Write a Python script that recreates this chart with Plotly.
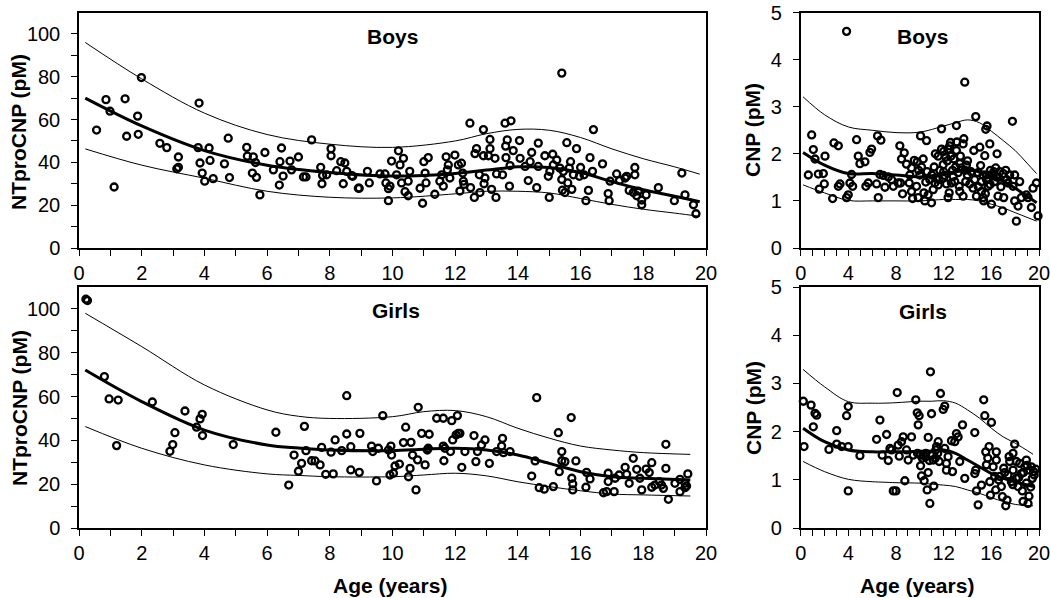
import plotly.graph_objects as go

# ---------------- Data ----------------
# Boys NTproCNP scatter
boys_nt_age = [0.56,0.86,0.99,1.12,1.47,1.52,1.87,1.89,1.99,2.58,2.80,3.17,3.12,3.17,3.83,3.80,3.86,3.93,4.01,4.15,4.18,4.28,4.64,4.76,4.80,
    5.35,5.37,5.56,5.53,5.63,5.66,5.77,5.93,6.20,6.39,6.41,6.46,6.51,6.73,6.78,7.00,7.16,7.24,7.42,7.71,7.75,7.77,7.90,8.04,8.04,8.22,8.35,8.48,8.43,8.54,8.70,8.91,
    8.73,8.94,9.20,9.26,9.60,9.76,9.79,9.87,9.87,9.97,9.92,10.13,10.19,10.24,10.29,10.35,10.40,10.50,10.50,10.55,10.88,10.96,11.00,11.04,11.07,11.14,11.35,11.51,11.57,11.62,
    11.71,11.75,11.78,11.83,11.99,12.10,12.15,12.20,12.24,12.26,12.28,12.47,12.49,12.61,12.63,12.68,12.77,12.79,12.90,12.90,12.92,12.95,13.06,13.11,13.11,13.16,13.27,13.30,
    13.32,13.51,13.59,13.61,13.62,13.66,13.73,13.75,13.78,13.85,14.05,14.07,14.23,14.33,14.39,14.44,14.60,14.65,14.65,14.86,14.97,15.00,15.02,15.11,15.13,15.24,15.34,15.40,
    15.40,15.42,15.45,15.50,15.56,15.59,15.64,15.68,15.72,15.77,15.87,15.96,16.00,16.11,16.17,16.25,16.30,16.38,16.41,16.70,16.88,16.91,16.94,17.15,17.24,17.42,17.47,17.55,
    17.68,17.73,17.73,17.79,17.84,17.95,17.95,18.09,18.48,18.99,19.23,19.33,19.60,19.68]
boys_nt_val = [55.1,69.3,63.9,28.5,69.7,52.2,61.6,53.1,79.6,48.9,46.9,42.5,37.0,37.7,67.7,46.9,39.7,35.0,31.2,46.7,40.9,32.4,39.3,51.3,32.9,
    47.0,42.9,42.6,35.0,39.9,33.0,24.8,44.6,36.5,29.4,40.3,46.7,33.6,40.6,36.5,42.5,33.2,33.2,50.5,37.7,30.0,33.9,34.2,46.4,43.1,36.1,40.3,39.7,30.0,35.8,33.8,27.9,
    33.5,27.9,35.8,30.4,34.6,34.6,30.4,27.7,22.1,40.6,28.9,34.2,45.4,38.8,30.4,41.9,26.3,24.4,31.2,35.8,27.9,20.9,40.3,35.0,30.4,42.2,25.1,31.2,34.2,28.9,
    42.6,36.5,38.8,32.7,43.4,38.8,26.6,39.6,35.0,31.2,29.7,58.3,28.2,23.6,44.1,46.4,34.2,25.9,55.3,43.1,30.0,32.7,43.1,50.7,46.4,27.4,41.9,23.6,
    34.6,34.2,58.3,47.6,42.2,50.5,28.9,38.5,59.4,45.5,50.2,41.9,38.1,31.5,40.3,44.6,28.2,38.1,49.0,43.1,33.5,23.6,35.8,43.8,38.8,41.1,37.3,81.7,
    32.0,27.0,35.8,25.9,49.2,30.4,37.3,40.3,27.4,34.2,46.4,33.5,37.6,34.2,22.1,26.9,42.2,35.8,55.3,39.3,25.4,22.1,31.2,34.6,31.5,32.7,33.5,26.9,
    25.9,37.6,34.2,24.4,26.6,20.2,22.4,24.8,28.2,22.1,35.0,24.8,20.2,16.0]

# Boys CNP scatter
boys_cnp_age = [0.64,0.92,1.06,1.20,1.48,1.56,1.90,1.98,2.04,2.68,2.79,3.16,3.16,3.30,3.85,3.85,3.99,4.13,4.27,4.36,4.69,4.83,4.97,5.39,5.47,5.67,5.81,5.95,
    6.37,6.45,6.51,6.65,6.73,6.93,7.07,7.35,7.63,7.77,8.18,8.32,8.38,8.46,8.55,8.69,8.88,9.11,9.16,9.30,9.39,9.53,9.72,9.78,9.86,10.00,10.06,10.14,10.28,10.34,10.42,
    10.56,10.61,10.70,10.84,10.98,11.12,11.26,11.54,11.68,11.82,11.82,11.96,12.09,12.18,12.23,12.37,12.37,12.46,12.51,12.65,12.74,12.85,12.93,13.07,13.07,13.21,13.30,
    13.35,13.49,13.63,13.69,13.77,13.85,13.91,13.99,14.19,14.47,14.53,14.69,14.75,14.89,15.03,15.17,15.17,15.31,15.36,15.45,15.53,15.64,15.73,15.87,15.92,16.01,16.09,
    16.28,16.37,16.48,16.56,16.70,16.93,17.04,17.21,17.40,17.54,17.77,17.82,17.96,18.10,18.24,18.52,19.08,19.36,19.50,19.78,19.92,
    11.40,11.54,11.96,15.59,15.73,16.42,18.94,18.38,13.35,13.63,12.57,17.96,
    11.0,11.2,11.6,12.0,12.3,12.6,12.8,13.0,13.4,13.8,14.0,14.3,14.6,14.9,15.1,15.3,15.6,15.9,16.2,16.6,17.0,17.3,16.8,15.5,12.0,11.3,13.1,10.5,9.9,9.3]
boys_cnp_val = [1.55,2.40,2.09,1.89,1.57,1.25,1.58,1.36,1.95,1.05,2.23,2.17,1.31,1.36,4.60,1.07,1.13,1.38,1.56,1.31,2.30,1.95,1.79,1.83,1.31,1.38,2.03,2.10,
    1.36,2.38,1.07,1.56,2.29,1.54,1.29,1.51,1.45,1.31,1.38,2.17,1.38,1.89,1.15,2.02,1.78,1.38,1.55,1.20,1.05,1.86,1.31,1.83,1.07,1.55,2.38,1.72,1.89,1.17,1.00,
    2.28,1.62,1.13,1.45,0.96,1.24,1.38,1.95,1.65,2.53,2.10,1.77,1.54,1.93,1.36,2.10,1.07,1.17,2.17,1.38,1.65,1.89,1.41,2.60,2.07,1.60,1.31,
    1.79,1.70,2.21,2.32,3.52,1.41,1.76,1.55,1.36,1.27,2.07,2.79,1.10,1.60,2.14,1.41,1.20,1.07,1.00,1.96,2.52,2.59,1.31,2.21,1.65,0.93,1.55,
    1.41,1.70,2.00,1.10,1.62,0.79,1.07,1.65,1.38,1.55,2.69,1.31,1.00,0.57,0.89,1.07,1.07,0.86,1.27,1.38,0.68,
    1.48,1.34,1.48,1.55,1.48,1.51,1.13,1.41,1.20,1.10,2.24,1.55,
    1.55,1.72,1.45,1.62,1.85,1.95,1.52,1.72,1.95,1.65,1.85,1.62,1.45,1.30,1.75,1.55,1.45,1.35,1.62,1.50,1.58,1.45,1.30,1.15,2.05,2.00,2.25,1.40,1.65,1.70]

# Girls NTproCNP scatter
girls_nt_age = [0.22,0.27,0.81,0.96,1.25,1.20,2.34,2.90,2.99,3.06,3.38,3.75,3.86,3.93,3.94,4.92,6.28,6.69,6.86,7.00,7.10,7.19,7.24,7.42,7.53,7.69,7.74,7.87,
    8.04,8.11,8.17,8.38,8.54,8.54,8.67,8.67,8.96,8.94,9.33,9.37,9.49,9.55,9.69,9.87,9.92,9.95,9.97,10.03,10.08,10.22,10.35,10.42,10.51,10.56,10.59,10.64,10.75,
    10.80,10.82,10.93,11.04,11.11,11.14,11.17,11.41,11.62,11.62,11.64,11.67,11.85,11.89,11.92,12.03,12.07,12.10,12.15,12.21,12.31,12.60,12.66,12.71,12.84,12.95,
    13.09,13.32,13.48,13.51,13.54,13.75,14.44,14.55,14.60,14.68,14.84,15.13,15.29,15.32,15.40,15.40,15.50,15.70,15.72,15.75,15.75,15.85,16.17,16.19,16.30,16.73,
    16.83,16.88,16.88,17.07,17.10,17.23,17.42,17.47,17.55,17.68,17.79,17.89,17.95,18.09,18.19,18.27,18.27,18.37,18.51,18.58,18.64,18.72,18.72,18.80,19.01,19.17,
    19.17,19.33,19.33,19.42,19.38]
girls_nt_val = [104.4,103.8,69.1,58.9,58.4,37.6,57.5,35.0,38.1,43.5,53.4,46.0,49.8,51.9,42.2,38.1,43.7,19.6,33.3,25.9,29.5,46.4,35.3,30.7,30.6,28.8,36.8,24.5,
    34.6,24.7,40.2,35.3,42.9,60.4,37.1,26.5,43.2,25.4,37.4,34.9,21.5,36.4,51.3,35.6,24.2,37.4,33.3,25.0,28.3,29.2,39.0,46.0,23.4,27.2,39.1,33.3,17.4,
    31.1,55.1,43.2,28.8,35.6,36.4,42.8,50.1,50.1,37.4,30.7,36.4,34.9,49.0,40.2,42.5,51.3,43.2,43.2,27.7,34.9,42.2,30.3,34.9,37.9,40.2,
    29.5,34.9,37.4,40.9,34.4,34.9,23.7,30.6,59.5,18.4,17.7,18.9,43.5,25.7,34.9,30.7,30.3,50.4,22.7,20.1,17.4,30.6,18.6,25.4,22.4,16.1,
    16.6,25.0,21.2,16.6,22.7,24.2,27.7,24.5,20.4,31.8,26.8,22.7,17.4,26.9,25.3,29.8,18.6,19.6,21.2,19.6,18.1,38.2,27.2,13.1,20.4,22.2,
    16.6,20.4,18.4,24.7,19.2]

# Girls CNP scatter
girls_cnp_age = [0.22,0.28,0.87,1.06,1.20,1.34,2.37,3.02,3.02,3.44,3.85,3.99,3.99,3.99,4.97,6.37,6.65,6.84,7.21,7.35,7.49,7.63,7.77,7.99,8.10,8.18,8.27,8.46,
    8.60,8.74,8.88,9.02,9.30,9.44,9.66,9.78,9.86,9.94,10.06,10.06,10.14,10.28,10.36,10.50,10.61,10.70,10.70,10.84,10.89,10.98,11.12,11.17,11.34,11.40,11.54,11.62,
    11.73,11.96,12.09,12.09,12.23,12.23,12.37,12.65,12.74,12.93,13.07,13.21,13.35,13.58,13.77,14.61,14.61,14.69,14.75,14.89,15.17,15.36,15.45,15.53,15.59,15.81,
    15.87,15.92,16.01,16.15,16.28,16.37,16.42,16.84,16.93,17.04,17.12,17.21,17.32,17.49,17.54,17.68,17.82,17.96,18.10,18.24,18.38,18.52,18.60,18.66,18.80,18.94,
    19.08,19.16,19.36,19.44,19.55,19.72,16.42,16.70,17.82,18.10,18.94,19.22,
    10.2,10.5,10.8,11.0,11.3,11.5,9.8,18.3,18.7,19.0,19.3,17.8,17.4,19.6,16.6,15.7]
girls_cnp_val = [2.63,1.69,2.55,2.10,2.38,2.34,1.63,2.02,1.74,1.69,2.33,2.52,1.69,0.77,1.50,1.84,2.24,1.51,1.94,1.40,1.65,1.62,0.77,0.77,2.81,1.72,1.49,1.79,
    1.89,0.98,1.62,1.41,1.89,1.51,2.66,2.39,2.14,2.33,1.51,1.29,1.08,1.51,0.98,1.48,0.79,1.15,1.88,0.51,3.24,2.37,1.41,0.87,1.62,1.69,1.79,1.38,
    2.79,2.46,2.53,1.65,1.20,1.34,1.48,1.81,1.17,1.79,1.96,1.89,1.38,2.14,1.03,1.98,1.13,1.20,0.77,0.48,0.89,2.66,2.33,1.58,1.31,1.69,
    0.96,0.68,2.19,1.27,1.07,0.79,1.58,0.86,0.65,1.24,1.15,0.46,0.58,1.48,1.38,0.96,1.20,1.74,1.03,0.86,1.34,1.13,0.77,0.55,1.27,0.93,
    0.51,0.66,1.27,1.03,1.17,1.22,1.41,1.07,1.55,1.38,1.41,1.20,
    1.45,1.55,1.40,1.50,1.45,1.55,1.55,1.05,1.15,1.30,0.85,0.90,1.10,1.10,1.00,1.45]

# Percentile curves
curve_age = [0.2,2,4,6,8,10,12,13,14,15,16,17,18,19,19.8]
boys_nt_hi  = [96,79,63,53,48.5,47,50,53.4,55.4,55,51.6,46.3,41.7,37.9,34.5]
boys_nt_mid = [70,57,45.5,38.7,35.3,33.6,34.8,36.4,37.9,37.6,35.3,31,27.2,24.2,21.6]
boys_nt_lo  = [46.3,38.7,32.6,26.5,23.7,23.4,25.3,26.5,26.5,25.7,23.1,20.4,18.1,16.3,14.8]

boys_cnp_hi  = [3.21,2.83,2.57,2.50,2.45,2.46,2.59,2.66,2.72,2.66,2.48,2.28,2.07,1.80,1.58]
boys_cnp_mid = [2.03,1.76,1.58,1.58,1.55,1.51,1.58,1.62,1.65,1.62,1.55,1.42,1.27,1.10,0.96]
boys_cnp_lo  = [1.34,1.17,1.01,1.00,1.00,1.00,1.03,1.03,1.03,1.00,0.93,0.85,0.75,0.65,0.57]

curve_age_g = [0.2,2,4,6,7,8,10,11,12,13,14,15,16,17,18,19.5]
girls_nt_hi  = [98,82.8,65.3,53.9,51,50,50.8,53.1,53.6,50.8,45.5,41,37.4,35.6,34.4,33.6]
girls_nt_mid = [72.1,57.7,44.7,37.9,36.5,35.6,35.3,36,36.4,35.6,33.3,29.5,25.7,23.4,22.7,21.9]
girls_nt_lo  = [46.3,36.4,28.8,24.7,24,23.4,23.4,24.2,25,23.8,21.1,18.9,17,15.5,15.1,14.6]

girls_cnp_hi  = [3.29,2.93,2.62,2.59,2.59,2.6,2.63,2.63,2.64,2.59,2.45,2.28,2.07,1.89,1.76,1.53]
girls_cnp_mid = [2.07,1.79,1.62,1.58,1.58,1.58,1.59,1.6,1.62,1.55,1.41,1.27,1.13,1.03,0.96,0.86]
girls_cnp_lo  = [1.38,1.17,1.01,0.96,0.95,0.94,0.93,0.91,0.89,0.86,0.79,0.72,0.63,0.55,0.49,0.46]

panel_titles = ["Boys", "Boys", "Girls", "Girls"]

# ---------------- Figure ----------------
FONT = "Liberation Sans, Arial, sans-serif"
fig = go.Figure()

def add_panel(n, ages, vals, cage, hi, mid, lo):
    xa = "x" if n == 1 else f"x{n}"
    ya = "y" if n == 1 else f"y{n}"
    for arr, w in ((hi, 1), (lo, 1), (mid, 3)):
        fig.add_trace(go.Scatter(x=cage, y=arr, mode="lines", line=dict(color="black", width=w, shape="spline", smoothing=1),
                                 xaxis=xa, yaxis=ya, showlegend=False, hoverinfo="skip"))
    fig.add_trace(go.Scatter(x=ages, y=vals, mode="markers", xaxis=xa, yaxis=ya, showlegend=False, cliponaxis=False,
                             marker=dict(symbol="circle-open", size=7, color="black", line=dict(width=2.3, color="black"))))

add_panel(1, boys_nt_age, boys_nt_val, curve_age, boys_nt_hi, boys_nt_mid, boys_nt_lo)
add_panel(2, boys_cnp_age, boys_cnp_val, curve_age, boys_cnp_hi, boys_cnp_mid, boys_cnp_lo)
add_panel(3, girls_nt_age, girls_nt_val, curve_age_g, girls_nt_hi, girls_nt_mid, girls_nt_lo)
add_panel(4, girls_cnp_age, girls_cnp_val, curve_age_g, girls_cnp_hi, girls_cnp_mid, girls_cnp_lo)

W, H = 1050, 598
left_dom = [79 / W, 706 / W]
right_dom = [800.7 / W, 1039 / W]
top_dom = [(H - 248) / H, (H - 12.5) / H]
bot_dom = [(H - 528) / H, (H - 287) / H]

common = dict(showline=True, linecolor="black", linewidth=1.5, mirror=True, ticks="outside", ticklen=6,
              tickwidth=1, tickcolor="black", showgrid=False, zeroline=False, ticklabeloverflow="allow",
              tickfont=dict(family=FONT, size=20, color="black"))

def xaxis_left(anchor):
    vals = list(range(0, 21))
    return dict(common, domain=left_dom, range=[0, 20], anchor=anchor, tickvals=vals,
                ticktext=[str(v) if v % 2 == 0 else "" for v in vals])

def xaxis_right(anchor):
    vals = list(range(0, 21))
    return dict(common, domain=right_dom, range=[0, 20], anchor=anchor, tickvals=vals,
                ticktext=[str(v) if v % 4 == 0 else "" for v in vals])

def yaxis_left(dom, anchor):
    vals = list(range(0, 101, 10))
    return dict(common, domain=dom, range=[0, 110], anchor=anchor, tickvals=vals,
                ticktext=[str(v) if v % 20 == 0 else "" for v in vals], ticklabelstandoff=7)

def yaxis_right(dom, anchor):
    return dict(common, domain=dom, range=[0, 5], anchor=anchor, tickvals=[0, 1, 2, 3, 4, 5], ticklabelstandoff=7)

annos = []
for ax, x, y, t in (("1", 10.0, 98.6, panel_titles[0]), ("2", 10.2, 4.48, panel_titles[1]),
                    ("3", 10.1, 99.5, panel_titles[2]), ("4", 10.3, 4.5, panel_titles[3])):
    xr = "x" if ax == "1" else "x" + ax
    yr = "y" if ax == "1" else "y" + ax
    annos.append(dict(x=x, y=y, xref=xr, yref=yr, text="<b>%s</b>" % t, showarrow=False,
                      font=dict(family=FONT, size=21, color="black")))

def pt(xp, yp, text, angle=0):
    annos.append(dict(x=xp / W, y=1 - yp / H, xref="paper", yref="paper", text="<b>%s</b>" % text,
                      showarrow=False, textangle=angle, xanchor="center", yanchor="middle",
                      font=dict(family=FONT, size=21, color="black")))

pt(19, 132, "NTproCNP (pM)", -90)
pt(19, 408, "NTproCNP (pM)", -90)
pt(753, 130, "CNP (pM)", -90)
pt(753, 408, "CNP (pM)", -90)
pt(390, 585, "Age (years)")
pt(917, 585, "Age (years)")

fig.update_layout(
    width=W, height=H, margin=dict(l=0, r=0, t=0, b=0), template="none",
    paper_bgcolor="white", plot_bgcolor="white", showlegend=False,
    xaxis=xaxis_left("y"), yaxis=yaxis_left(top_dom, "x"),
    xaxis2=xaxis_right("y2"), yaxis2=yaxis_right(top_dom, "x2"),
    xaxis3=xaxis_left("y3"), yaxis3=yaxis_left(bot_dom, "x3"),
    xaxis4=xaxis_right("y4"), yaxis4=yaxis_right(bot_dom, "x4"),
    annotations=annos,
    font=dict(family=FONT, color="black"),
)

fig.write_html("out.html", config={"displayModeBar": False},
               post_script="document.body.style.margin='0';document.body.style.overflow='hidden';")
